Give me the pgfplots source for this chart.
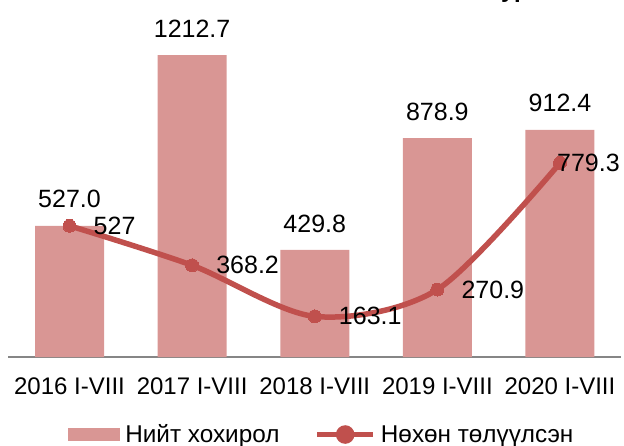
\documentclass[border=0pt]{standalone}
\usepackage{fontspec}
\setmainfont{Liberation Sans}
\usepackage{pgfplots}
\usepackage{pgfplotstable}
\pgfplotsset{compat=1.18}

\definecolor{barpink}{HTML}{D99694}
\definecolor{linered}{HTML}{C0504D}
\definecolor{axisgray}{HTML}{868686}
\tikzset{lbl/.style={font=\fontsize{25bp}{30bp}\selectfont, text=black, inner sep=0}}

% total damage (bars)
\pgfplotstableread{
x y lab
0 527.0 527.0
1 1212.7 1212.7
2 429.8 429.8
3 878.9 878.9
4 912.4 912.4
}\hohirol

% recovered (line)
\pgfplotstableread{
x y lab
0 527 527
1 368.2 368.2
2 163.1 163.1
3 270.9 270.9
4 779.3 779.3
}\nohon

\begin{document}
\begin{tikzpicture}
\useasboundingbox (-8.2bp,-89bp) rectangle (615.8bp,357bp);
% cut-off title
\node[anchor=base west, inner sep=0, font=\fontsize{24bp}{28bp}\selectfont\bfseries] at (492.8bp,359bp) {ур};
\begin{axis}[
  at={(0,0)}, anchor=south west,
  scale only axis,
  width=613.1bp, height=348.6bp,
  xmin=-0.5, xmax=4.5,
  ymin=0, ymax=1400,
  axis y line=none,
  axis x line*=bottom,
  x axis line style={draw=axisgray, line width=1.5bp},
  xtick={0,1,2,3,4},
  xticklabels={2016 I-VIII,2017 I-VIII,2018 I-VIII,2019 I-VIII,2020 I-VIII},
  xtick style={draw=none},
  major tick length=0pt,
  xticklabel style={anchor=base, inner sep=0, yshift=-37bp,
    font=\fontsize{24bp}{28bp}\selectfont},
  ytick=\empty,
  clip=false,
  legend style={at={(0.5100,-0.2224)}, anchor=center, draw=none,
    font=\fontsize{24.3bp}{28bp}\selectfont,
    nodes={inner sep=0}, cells={anchor=west},
    /tikz/every odd column/.append style={column sep=5bp},
    /tikz/every even column/.append style={column sep=35bp}},
  legend columns=2,
]
\addplot[ybar, bar width=69bp, bar shift=0pt, fill=barpink, draw=none,
  point meta=explicit symbolic,
  nodes near coords={\pgfplotspointmeta},
  every node near coord/.append style={lbl, anchor=south, yshift=17.5bp},
  legend image code/.code={\fill[barpink] (0bp,-6.5bp) rectangle (52bp,6.5bp);}]
  table[x=x, y=y, meta=lab] {\hohirol};
\addlegendentry{Нийт хохирол}

\addplot[color=linered, line width=5.5bp, smooth, tension=0.5,
  mark=*, mark size=6.5bp, mark options={fill=linered, draw=linered, line width=0pt},
  legend image code/.code={
    \draw[linered, line width=5.5bp] (0bp,0bp) -- (56bp,0bp);
    \fill[linered] (28bp,0bp) circle (6.5bp);}]
  table[x=x, y=y] {\nohon};
\addlegendentry{Нөхөн төлүүлсэн}

% line labels
\addplot[forget plot, draw=none, mark=none, restrict x to domain=-1:3.5,
  point meta=explicit symbolic,
  nodes near coords={\pgfplotspointmeta},
  every node near coord/.append style={lbl, anchor=west, xshift=24bp}]
  table[x=x, y=y, meta=lab] {\nohon};
\addplot[forget plot, draw=none, mark=none, restrict x to domain=3.5:5,
  point meta=explicit symbolic,
  nodes near coords={\pgfplotspointmeta},
  every node near coord/.append style={lbl, anchor=west, xshift=-3bp}]
  table[x=x, y=y, meta=lab] {\nohon};
\end{axis}
\end{tikzpicture}
\end{document}
